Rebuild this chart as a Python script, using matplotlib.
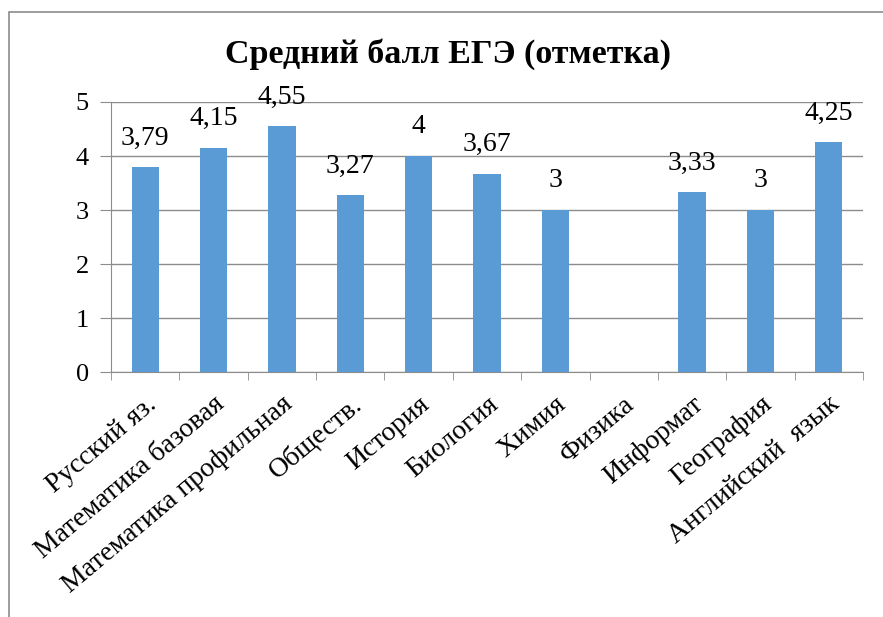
import numpy as np
import matplotlib.pyplot as plt
from matplotlib.patches import Rectangle

plt.rcParams['font.family'] = ['Liberation Serif', 'DejaVu Serif']

# chart data
subjects = ['Русский яз.', 'Математика базовая', 'Математика профильная',
            'Обществ.', 'История', 'Биология', 'Химия', 'Физика',
            'Информат', 'География', 'Английский  язык']
scores = [3.79, 4.15, 4.55, 3.27, 4, 3.67, 3, np.nan, 3.33, 3, 4.25]
labels = ['3,79', '4,15', '4,55', '3,27', '4', '3,67', '3', '', '3,33', '3', '4,25']

fig = plt.figure(figsize=(8.83, 6.17), dpi=100)
ax = fig.add_axes([0.1257, 0.397, 0.8516, 0.4377])

# outer chart border
fig.patches.append(Rectangle((9 / 883, -0.01), 1.0, 1 - 12 / 617 + 0.01,
                             transform=fig.transFigure, fill=False,
                             edgecolor='#8c8c8c', linewidth=1.2))

x = np.arange(len(subjects))
ax.bar(x, scores, width=0.4, color='#5b9bd5', zorder=3)

for xi, val, lab in zip(x, scores, labels):
    if lab:
        ax.annotate(lab, (xi, val), xytext=(0, 12), textcoords='offset points',
                    ha='center', va='bottom', fontsize=20, zorder=4)

ax.set_xlim(-0.5, len(subjects) - 0.5)
ax.set_ylim(0, 5)
ax.set_yticks(range(6))
ax.yaxis.grid(True, color='#8c8c8c', linewidth=1)
ax.set_axisbelow(True)

ax.set_xticks(x)
ax.set_xticklabels(subjects, rotation=40, ha='right', rotation_mode='anchor', fontsize=20)
ax.tick_params(axis='x', length=0, pad=14)
# category boundary ticks
ax.set_xticks(np.arange(-0.5, len(subjects)), minor=True)
ax.tick_params(axis='x', which='minor', length=6, color='#8c8c8c')
ax.tick_params(axis='y', length=8, color='#8c8c8c', labelsize=19, pad=8)

for side in ['top', 'right']:
    ax.spines[side].set_visible(False)
for side in ['left', 'bottom']:
    ax.spines[side].set_color('#8c8c8c')

fig.text(0.507, 0.912, 'Средний балл ЕГЭ (отметка)', ha='center', va='center',
         fontsize=24.5, fontweight='bold')

fig.savefig('out.png', dpi=100)
